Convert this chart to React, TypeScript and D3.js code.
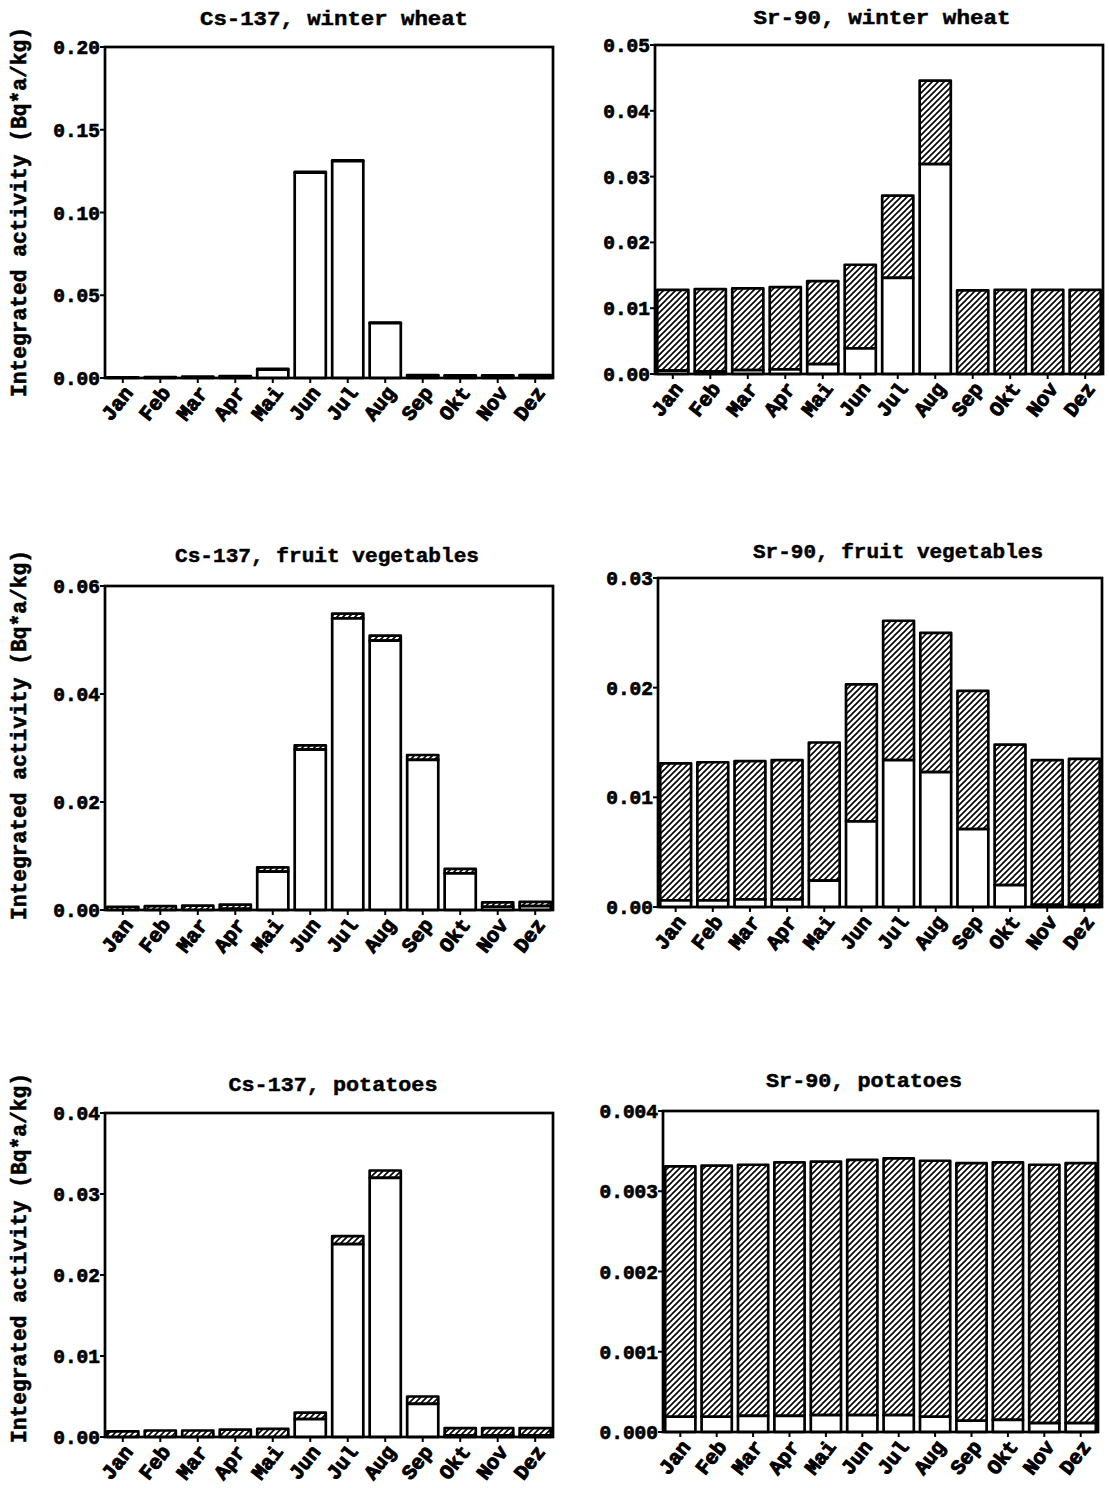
import React from "react";
import * as d3 from "d3";

// Months as printed on the category axis
const months = ["Jan", "Feb", "Mar", "Apr", "Mai", "Jun", "Jul", "Aug", "Sep", "Okt", "Nov", "Dez"];

// Each bar = white (foliar) segment at the bottom + hatched (root uptake) segment on top.
// Cs-137, winter wheat
const csWheatFoliar = [0.0, 0.0002, 0.0004, 0.0008, 0.0051, 0.1241, 0.1311, 0.0331, 0.0014, 0.0012, 0.0012, 0.0014];
const csWheatRoot = [0.0004, 0.0004, 0.0004, 0.0004, 0.0004, 0.0004, 0.0004, 0.0004, 0.0004, 0.0004, 0.0004, 0.0004];
const csWheatTicks = [0, 0.05, 0.1, 0.15, 0.2];

// Sr-90, winter wheat
const srWheatFoliar = [0.0005, 0.0004, 0.0006, 0.0007, 0.0015, 0.0039, 0.0146, 0.0319, 0.0, 0.0, 0.0, 0.0];
const srWheatRoot = [0.0123, 0.0125, 0.0124, 0.0125, 0.0126, 0.0127, 0.0125, 0.0127, 0.0127, 0.0128, 0.0128, 0.0128];
const srWheatTicks = [0, 0.01, 0.02, 0.03, 0.04, 0.05];

// Cs-137, fruit vegetables
const csFruitFoliar = [0.0, 0.0, 0.0, 0.0002, 0.0071, 0.0297, 0.054, 0.0499, 0.0278, 0.0068, 0.0006, 0.0007];
const csFruitRoot = [0.0006, 0.0007, 0.0008, 0.0008, 0.0008, 0.0008, 0.0009, 0.0009, 0.0009, 0.0008, 0.0008, 0.0008];
const csFruitTicks = [0, 0.02, 0.04, 0.06];

// Sr-90, fruit vegetables
const srFruitFoliar = [0.0006, 0.0006, 0.0007, 0.0007, 0.0024, 0.0078, 0.0134, 0.0123, 0.0071, 0.002, 0.0002, 0.0002];
const srFruitRoot = [0.0125, 0.0126, 0.0126, 0.0127, 0.0126, 0.0125, 0.0127, 0.0127, 0.0126, 0.0128, 0.0132, 0.0133];
const srFruitTicks = [0, 0.01, 0.02, 0.03];

// Cs-137, potatoes
const csPotatoFoliar = [0.0, 0.0, 0.0, 0.0, 0.0, 0.0022, 0.0238, 0.032, 0.0041, 0.0002, 0.0002, 0.0002];
const csPotatoRoot = [0.0007, 0.0008, 0.0008, 0.0009, 0.001, 0.0008, 0.001, 0.0009, 0.0009, 0.0009, 0.0009, 0.0009];
const csPotatoTicks = [0, 0.01, 0.02, 0.03, 0.04];

// Sr-90, potatoes
const srPotatoFoliar = [0.00019, 0.00019, 0.0002, 0.0002, 0.00021, 0.00021, 0.00021, 0.00019, 0.00014, 0.00015, 0.00011, 0.00011];
const srPotatoRoot = [0.00312, 0.00313, 0.00313, 0.00316, 0.00316, 0.00318, 0.0032, 0.00319, 0.00321, 0.00321, 0.00322, 0.00324];
const srPotatoTicks = [0, 0.001, 0.002, 0.003, 0.004];

const yAxisTitle = "Integrated activity (Bq*a/kg)";

const FONT = "'Liberation Mono', 'DejaVu Sans Mono', monospace";

type Frame = { l: number; t: number; r: number; b: number };
type PanelSpec = {
  title: string;
  foliar: number[];
  root: number[];
  ticks: number[];
  fmt: string;
  frame: Frame;
  titleX: number;
  titleY: number;
  titleLen: number;
  yTitleY?: number;
};

const panels: PanelSpec[] = [
  { title: "Cs-137, winter wheat", foliar: csWheatFoliar, root: csWheatRoot, ticks: csWheatTicks, fmt: ".2f",
    frame: { l: 105, t: 47, r: 553, b: 378 }, titleX: 334, titleY: 25, titleLen: 268, yTitleY: 212 },
  { title: "Sr-90, winter wheat", foliar: srWheatFoliar, root: srWheatRoot, ticks: srWheatTicks, fmt: ".2f",
    frame: { l: 655, t: 45, r: 1103, b: 374 }, titleX: 882, titleY: 24, titleLen: 257 },
  { title: "Cs-137, fruit vegetables", foliar: csFruitFoliar, root: csFruitRoot, ticks: csFruitTicks, fmt: ".2f",
    frame: { l: 105, t: 586, r: 553, b: 910 }, titleX: 327, titleY: 562, titleLen: 304, yTitleY: 735 },
  { title: "Sr-90, fruit vegetables", foliar: srFruitFoliar, root: srFruitRoot, ticks: srFruitTicks, fmt: ".2f",
    frame: { l: 658, t: 578, r: 1102, b: 907 }, titleX: 898, titleY: 558, titleLen: 290 },
  { title: "Cs-137, potatoes", foliar: csPotatoFoliar, root: csPotatoRoot, ticks: csPotatoTicks, fmt: ".2f",
    frame: { l: 105, t: 1113, r: 553, b: 1437 }, titleX: 333, titleY: 1091, titleLen: 209, yTitleY: 1258 },
  { title: "Sr-90, potatoes", foliar: srPotatoFoliar, root: srPotatoRoot, ticks: srPotatoTicks, fmt: ".3f",
    frame: { l: 663, t: 1111, r: 1098, b: 1432 }, titleX: 864, titleY: 1087, titleLen: 196 },
];

function Panel({ p }: { p: PanelSpec }) {
  const { l, t, r, b } = p.frame;
  const x = d3.scaleBand<string>().domain(months).range([l, r]).paddingInner(0.17).paddingOuter(0.06);
  const yMax = d3.max(p.ticks) as number;
  const y = d3.scaleLinear().domain([0, yMax]).range([b, t]);
  const fmt = d3.format(p.fmt);
  const bw = x.bandwidth();
  const sw = 2.7;

  return (
    <g>
      {months.map((m, i) => {
        const lo = p.foliar[i];
        const hi = lo + p.root[i];
        const x0 = x(m) as number;
        return (
          <g key={m}>
            <rect x={x0} y={y(hi)} width={bw} height={Math.max(0, y(lo) - y(hi))}
              fill="url(#hatch)" stroke="#000" strokeWidth={sw} strokeLinejoin="round" />
            <rect x={x0} y={y(lo)} width={bw} height={Math.max(0, y(0) - y(lo))}
              fill="#fff" stroke="#000" strokeWidth={sw} strokeLinejoin="round" />
          </g>
        );
      })}

      <rect x={l} y={t} width={r - l} height={b - t} fill="none" stroke="#000" strokeWidth={2.7} />

      {p.ticks.map((v) => (
        <g key={v}>
          <line x1={l - 5} x2={l} y1={y(v)} y2={y(v)} stroke="#000" strokeWidth={2} />
          <text x={l - 5} y={y(v)} dy="0.36em" textAnchor="end" fontFamily={FONT} fontWeight="bold"
            fontSize={19.5} stroke="#000" strokeWidth={0.7}>
            {fmt(v)}
          </text>
        </g>
      ))}

      {months.map((m) => {
        const cx = (x(m) as number) + bw / 2;
        return (
          <g key={m}>
            <line x1={cx} x2={cx} y1={b} y2={b + 5} stroke="#000" strokeWidth={2} />
            <text transform={`translate(${cx + 11},${b + 15}) rotate(-52)`} textAnchor="end"
              fontFamily={FONT} fontWeight="bold" fontSize={20.5} stroke="#000" strokeWidth={1}>
              {m}
            </text>
          </g>
        );
      })}

      <text x={p.titleX} y={p.titleY} textAnchor="middle" fontFamily={FONT} fontWeight="bold" fontSize={21}
        textLength={p.titleLen} lengthAdjust="spacingAndGlyphs" stroke="#000" strokeWidth={0.5}>
        {p.title}
      </text>

      {p.yTitleY !== undefined && (
        <text transform={`translate(26,${p.yTitleY}) rotate(-90)`} textAnchor="middle" fontFamily={FONT}
          fontWeight="bold" fontSize={22} textLength={370} lengthAdjust="spacingAndGlyphs"
          stroke="#000" strokeWidth={0.6}>
          {yAxisTitle}
        </text>
      )}
    </g>
  );
}

export default function App() {
  return (
    <svg width={1109} height={1488} viewBox="0 0 1109 1488"
      style={{ position: "absolute", left: 0, top: 0, background: "#fff" }}>
      <defs>
        <pattern id="hatch" patternUnits="userSpaceOnUse" width={6} height={6}>
          <path d="M-1.5,1.5 L1.5,-1.5 M0,6 L6,0 M4.5,7.5 L7.5,4.5" stroke="#000" strokeWidth={1.6} />
        </pattern>
      </defs>
      <rect width={1109} height={1488} fill="#fff" />
      {panels.map((p) => (
        <Panel key={p.title} p={p} />
      ))}
    </svg>
  );
}
